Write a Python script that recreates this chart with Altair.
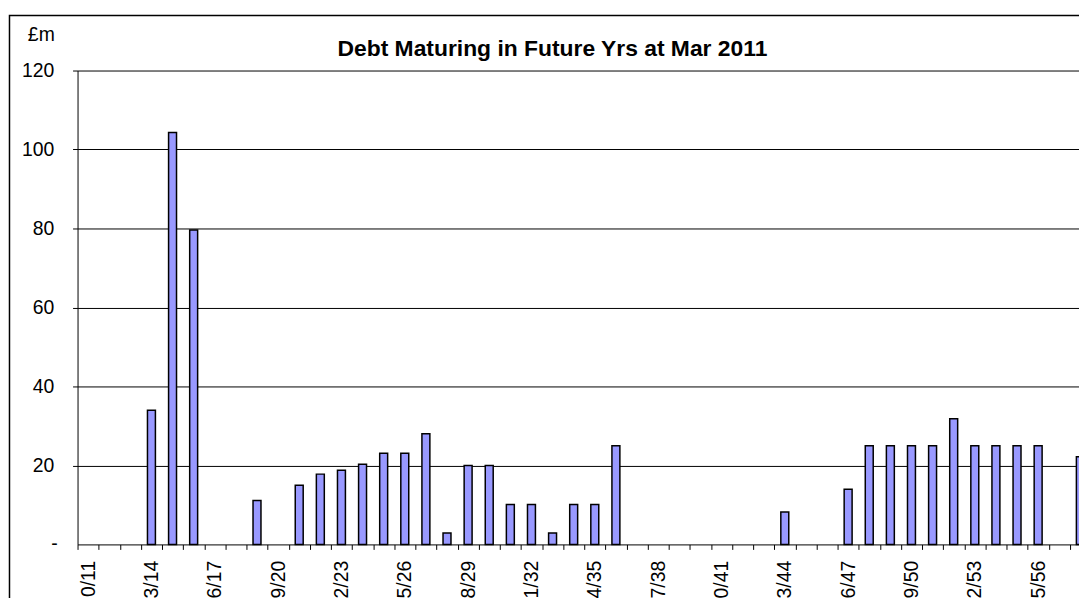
import altair as alt
import pandas as pd

categories = [
    "10/11", "11/12", "12/13", "13/14", "14/15", "15/16", "16/17", "17/18",
    "18/19", "19/20", "20/21", "21/22", "22/23", "23/24", "24/25", "25/26",
    "26/27", "27/28", "28/29", "29/30", "30/31", "31/32", "32/33", "33/34",
    "34/35", "35/36", "36/37", "37/38", "38/39", "39/40", "40/41", "41/42",
    "42/43", "43/44", "44/45", "45/46", "46/47", "47/48", "48/49", "49/50",
    "50/51", "51/52", "52/53", "53/54", "54/55", "55/56", "56/57", "57/58",
]
values = [
    0, 0, 0, 34.0, 104.3, 79.6, 0, 0,
    11.1, 0, 15.0, 17.8, 18.8, 20.3, 23.1, 23.1,
    28.0, 2.9, 20.0, 20.0, 10.1, 10.1, 2.9, 10.1,
    10.1, 25.0, 0, 0, 0, 0, 0, 0,
    0, 8.2, 0, 0, 14.0, 25.0, 25.0, 25.0,
    25.0, 31.8, 25.0, 25.0, 25.0, 25.0, 0, 22.2,
]
y_ticks = [20, 40, 60, 80, 100, 120]
zero_label = "-"
chart_title = "Debt Maturing in Future Yrs at Mar 2011"
unit_label = "£m"

FONT = "Liberation Sans"
PLOT_W = 1020
STEP = PLOT_W / len(categories)

df = pd.DataFrame({"period": categories, "amount": values})
df = df[df["amount"] > 0]
frame_df = pd.DataFrame({"frame": [0]})
zero_df = pd.DataFrame({"amount": [0], "label": [zero_label]})
unit_df = pd.DataFrame({"label": [unit_label]})

x_enc = alt.X(
    "period:N",
    sort=categories,
    scale=alt.Scale(domain=categories, paddingInner=0, paddingOuter=0),
    axis=alt.Axis(
        title=None,
        labelAngle=-90,
        labelExpr="(toNumber(slice(datum.value, 0, 2)) - 10) % 3 == 0 ? datum.value : ''",
        tickOffset=-STEP / 2,
        labelOffset=STEP / 2,
        tickSize=5,
        tickColor="black",
        domainColor="black",
        labelFont=FONT,
        labelFontSize=19.5,
        labelColor="black",
        labelPadding=11,
        labelOverlap=False,
        grid=False,
    ),
)

y_enc = alt.Y(
    "amount:Q",
    scale=alt.Scale(domain=[0, 120], nice=False),
    axis=alt.Axis(
        values=y_ticks,
        tickSize=5,
        tickColor="black",
        domainColor="black",
        grid=True,
        gridColor="black",
        gridWidth=1,
        labelFont=FONT,
        labelFontSize=19.5,
        labelColor="black",
        labelPadding=19,
        title=None,
    ),
)

bars = (
    alt.Chart(df)
    .mark_bar(size=8, fill="#9999FF", stroke="black", strokeWidth=1.5)
    .encode(x=x_enc, y=y_enc)
)

zero_text = (
    alt.Chart(zero_df)
    .mark_text(align="right", baseline="middle", font=FONT, fontSize=19.5, color="black")
    .encode(y=alt.Y("amount:Q"), x=alt.value(-20), text="label:N")
)

unit_text = (
    alt.Chart(unit_df)
    .mark_text(align="left", baseline="alphabetic", font=FONT, fontSize=19.5, color="black")
    .encode(x=alt.value(-50), y=alt.value(-30), text="label:N")
)

frame = (
    alt.Chart(frame_df)
    .mark_rect(filled=False, stroke="black", strokeWidth=1.5)
    .encode(
        x=alt.value(-68.5),
        x2=alt.value(3000),
        y=alt.value(-55.5),
        y2=alt.value(3000),
    )
)

chart = (
    alt.layer(frame, bars, zero_text, unit_text)
    .properties(
        width=PLOT_W,
        height=477,
        autosize=alt.AutoSizeParams(type="none"),
        padding={"left": 70, "top": 61, "right": -12, "bottom": 52},
        title=alt.TitleParams(
            text=chart_title,
            font=FONT,
            fontSize=23,
            fontWeight="bold",
            color="black",
            anchor="middle",
            frame="group",
            dx=-32,
            dy=51,
        ),
    )
    .configure_view(strokeWidth=0)
)

chart.save("out.html", embed_options={"renderer": "svg", "actions": False})
